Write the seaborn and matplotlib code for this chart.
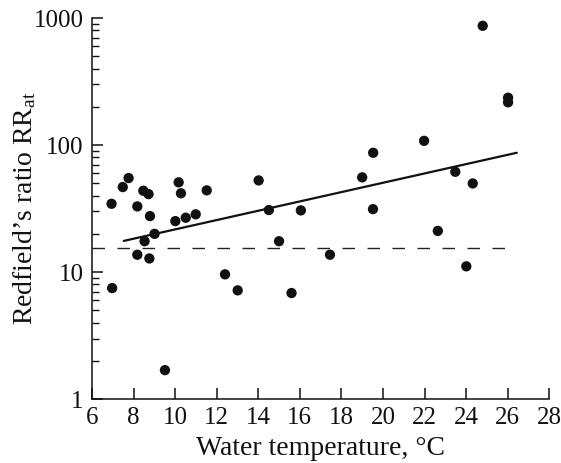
import matplotlib
matplotlib.use("Agg")
import matplotlib.pyplot as plt
import seaborn as sns
import numpy as np
import pandas as pd
from matplotlib.ticker import FixedLocator, LogLocator, NullFormatter, FixedFormatter

# Data
temperature = [6.94, 7.48, 7.76, 8.47, 8.72, 8.18, 8.79, 9.01, 8.53, 8.18, 8.76, 6.97,
               10.17, 10.28, 10.01, 10.51, 10.99, 11.52, 14.02, 14.51, 16.05, 15.0,
               17.45, 12.4, 13.01, 15.6, 9.51, 24.8, 26.02, 26.02, 21.98, 19.53,
               19.0, 23.48, 24.32, 19.52, 22.64, 24.01]
ratio = [34.5, 46.7, 55, 43.7, 41.1, 32.9, 27.6, 20, 17.5, 13.7, 12.8, 7.48,
         50.9, 41.7, 25.2, 26.8, 28.5, 44, 52.7, 30.8, 30.6, 17.5,
         13.7, 9.6, 7.18, 6.84, 1.69, 869, 236, 217, 108, 87,
         55.7, 61.6, 49.9, 31.3, 21.1, 11.1]
trend_x = [7.53, 26.44]
trend_y = [17.6, 87.0]
redfield_x = [6.0, 26.0]
redfield_y = [15.5, 15.5]
x_ticks = [6, 8, 10, 12, 14, 16, 18, 20, 22, 24, 26, 28]
y_ticks = [1, 10, 100, 1000]
y_tick_labels = ["1", "10", "100", "1000"]

sns.set_style("ticks")
plt.rcParams['font.family'] = ['Liberation Serif', 'DejaVu Serif']
plt.rcParams['mathtext.fontset'] = 'custom'
plt.rcParams['mathtext.rm'] = 'Liberation Serif'
plt.rcParams['mathtext.it'] = 'Liberation Serif:italic'

fig = plt.figure(figsize=(5.61, 4.63), dpi=100)
ax = fig.add_axes([0.164, 0.138, 0.815, 0.823])

df = pd.DataFrame({"t": temperature, "r": ratio})
sns.scatterplot(data=df, x="t", y="r", ax=ax, color="#111111", s=55,
                edgecolor="none", zorder=3)
sns.lineplot(x=trend_x, y=trend_y, ax=ax, color="#111111", lw=1.6)
ax.plot(redfield_x, redfield_y, color="#222222", lw=1.0, dashes=(9, 9))

ax.set_yscale("log")
ax.set_xlim(6, 28)
ax.set_ylim(1, 1000)
ax.xaxis.set_major_locator(FixedLocator(x_ticks))
ax.yaxis.set_major_locator(FixedLocator(y_ticks))
ax.yaxis.set_major_formatter(FixedFormatter(y_tick_labels))
ax.yaxis.set_minor_locator(LogLocator(base=10, subs=np.arange(2, 10)))
ax.yaxis.set_minor_formatter(NullFormatter())

for s in ["top", "right"]:
    ax.spines[s].set_visible(False)
for s in ["left", "bottom"]:
    ax.spines[s].set_linewidth(1.1)
    ax.spines[s].set_color("#111111")

ax.tick_params(axis="both", which="major", direction="in", length=8, width=1.1,
               labelsize=18, colors="#111111", pad=6)
ax.tick_params(axis="x", which="major", pad=6)
ax.tick_params(axis="y", which="minor", direction="in", length=5, width=1.0,
               colors="#111111")

ax.set_xlabel("Water temperature, °C", fontsize=20, color="#111111", labelpad=5)
ax.set_ylabel("Redfield’s ratio RR$_\\mathrm{at}$", fontsize=20, color="#111111")
ax.yaxis.set_label_coords(-0.118, 0.5)

fig.savefig("out.png", dpi=100)
